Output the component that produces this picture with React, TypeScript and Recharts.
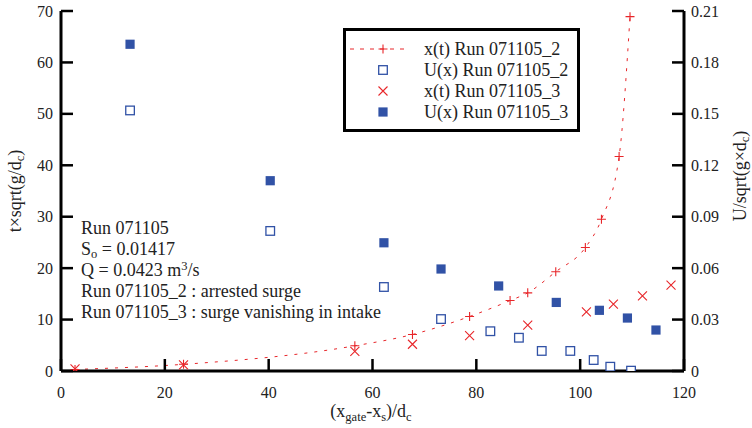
import React from 'react';
import { ComposedChart, XAxis, YAxis, Scatter, Line } from 'recharts';

const xTicks = [0, 20, 40, 60, 80, 100, 120];
const leftTicks = [0, 10, 20, 30, 40, 50, 60, 70];
const rightTicks = [0, 0.03, 0.06, 0.09, 0.12, 0.15, 0.18, 0.21];
const rightTickLabels = ['0', '0.03', '0.06', '0.09', '0.12', '0.15', '0.18', '0.21'];

// x(t) Run 071105_2 (plus markers, dashed curve)
const run2Pos = [
  { x: 2.7, t: 0.3 },
  { x: 23.6, t: 1.3 },
  { x: 56.6, t: 4.9 },
  { x: 67.7, t: 7.1 },
  { x: 78.7, t: 10.6 },
  { x: 86.5, t: 13.7 },
  { x: 89.9, t: 15.2 },
  { x: 95.3, t: 19.3 },
  { x: 101.0, t: 24.0 },
  { x: 104.1, t: 29.5 },
  { x: 107.5, t: 41.7 },
  { x: 109.6, t: 68.9 },
];

// x(t) Run 071105_3 (cross markers)
const run3Pos = [
  { x: 2.7, t: 0.4 },
  { x: 23.6, t: 1.2 },
  { x: 56.6, t: 3.8 },
  { x: 67.7, t: 5.2 },
  { x: 78.7, t: 6.9 },
  { x: 89.9, t: 8.9 },
  { x: 101.2, t: 11.5 },
  { x: 106.4, t: 13.0 },
  { x: 112.0, t: 14.6 },
  { x: 117.5, t: 16.7 },
];

// U(x) Run 071105_2 (open squares, right axis)
const run2Vel = [
  { x: 13.3, u: 0.152 },
  { x: 40.3, u: 0.0817 },
  { x: 62.2, u: 0.049 },
  { x: 73.2, u: 0.0303 },
  { x: 82.7, u: 0.0232 },
  { x: 88.2, u: 0.0194 },
  { x: 92.6, u: 0.0117 },
  { x: 98.1, u: 0.0117 },
  { x: 102.6, u: 0.0064 },
  { x: 105.8, u: 0.0025 },
  { x: 109.8, u: 0.0002 },
];

// U(x) Run 071105_3 (filled squares, right axis)
const run3Vel = [
  { x: 13.3, u: 0.1906 },
  { x: 40.3, u: 0.111 },
  { x: 62.2, u: 0.0748 },
  { x: 73.2, u: 0.0595 },
  { x: 84.3, u: 0.0496 },
  { x: 95.4, u: 0.04 },
  { x: 103.7, u: 0.0354 },
  { x: 109.1, u: 0.0309 },
  { x: 114.6, u: 0.0239 },
];

const RED = '#e8262a';
const BLUE = '#3152a6';
const FONT = '"Liberation Serif", "Times New Roman", serif';
const FS = 16;
const TS = 18;

const W = 752;
const H = 428;

const plusPath = (cx: number, cy: number, r: number) =>
  `M${cx - r},${cy}H${cx + r}M${cx},${cy - r}V${cy + r}`;
const crossPath = (cx: number, cy: number, r: number) =>
  `M${cx - r},${cy - r}L${cx + r},${cy + r}M${cx - r},${cy + r}L${cx + r},${cy - r}`;

const PlusDot = (props: any) => {
  const { cx, cy, index } = props;
  if (cx == null || cy == null) return <g key={`p${index}`} />;
  return <path key={`p${index}`} d={plusPath(cx, cy, 4.5)} stroke={RED} strokeWidth={1.1} fill="none" />;
};
const CrossShape = (props: any) => {
  const { cx, cy } = props;
  return <path d={crossPath(cx, cy, 4.5)} stroke={RED} strokeWidth={1.1} fill="none" />;
};
const OpenSquare = (props: any) => {
  const { cx, cy } = props;
  return <rect x={cx - 4.3} y={cy - 4.3} width={8.6} height={8.6} fill="#fff" stroke={BLUE} strokeWidth={1.3} />;
};
const FilledSquare = (props: any) => {
  const { cx, cy } = props;
  return <rect x={cx - 4.6} y={cy - 4.6} width={9.2} height={9.2} fill={BLUE} stroke="none" />;
};

const TICK = 12;

const LeftTick = (props: any) => {
  const { x, y, payload } = props;
  return (
    <g>
      <line x1={x} x2={x + TICK} y1={y} y2={y} stroke="#000" strokeWidth={2.5} />
      <text x={x - 8} y={y + 5.5} textAnchor="end" fontFamily={FONT} fontSize={FS} fill="#222">
        {payload.value}
      </text>
    </g>
  );
};
const RightTick = (props: any) => {
  const { x, y, payload, index } = props;
  return (
    <g>
      <line x1={x - TICK} x2={x} y1={y} y2={y} stroke="#000" strokeWidth={2.5} />
      <text x={x + 7} y={y + 5.5} textAnchor="start" fontFamily={FONT} fontSize={FS} fill="#222">
        {rightTickLabels[index] ?? payload.value}
      </text>
    </g>
  );
};
const BottomTick = (props: any) => {
  const { x, y, payload } = props;
  return (
    <g>
      <line x1={x} x2={x} y1={y} y2={y - TICK} stroke="#000" strokeWidth={2.5} />
      <text x={x} y={y + 27} textAnchor="middle" fontFamily={FONT} fontSize={FS} fill="#222">
        {payload.value}
      </text>
    </g>
  );
};
const TopTick = (props: any) => {
  const { x, y } = props;
  return (
    <g>
      <line x1={x} x2={x} y1={y} y2={y + TICK} stroke="#000" strokeWidth={2.5} />
    </g>
  );
};

const Overlay = () => {
  const t = { fontFamily: FONT, fontSize: TS, fill: '#222' } as const;
  const sub = 12.5;
  const annX = 81;
  const annY = [234, 255, 276, 297, 318];
  const legX = 424;
  const legRows = [49, 70, 91, 112];
  return (
    <svg width={W} height={H} style={{ position: 'absolute', left: 0, top: 0, pointerEvents: 'none' }}>
      {/* annotation */}
      <text x={annX} y={annY[0]} {...t}>Run 071105</text>
      <text x={annX} y={annY[1]} {...t}>
        S<tspan fontSize={sub} dy={3}>o</tspan>
        <tspan dy={-3}> = 0.01417</tspan>
      </text>
      <text x={annX} y={annY[2]} {...t}>
        Q = 0.0423 m<tspan fontSize={sub} dy={-6}>3</tspan>
        <tspan dy={6}>/s</tspan>
      </text>
      <text x={annX} y={annY[3]} {...t}>Run 071105_2 : arrested surge</text>
      <text x={annX} y={annY[4]} {...t}>Run 071105_3 : surge vanishing in intake</text>

      {/* legend */}
      <rect x={344.5} y={29.5} width={234} height={101} fill="#fff" stroke="#000" strokeWidth={3} />
      <line x1={350} x2={410} y1={legRows[0]} y2={legRows[0]} stroke={RED} strokeWidth={1} strokeDasharray="4 6" />
      <path d={plusPath(383, legRows[0], 4.5)} stroke={RED} strokeWidth={1.1} fill="none" />
      <rect x={383 - 4.3} y={legRows[1] - 4.3} width={8.6} height={8.6} fill="#fff" stroke={BLUE} strokeWidth={1.3} />
      <path d={crossPath(383, legRows[2], 4.5)} stroke={RED} strokeWidth={1.1} fill="none" />
      <rect x={383 - 4.6} y={legRows[3] - 4.6} width={9.2} height={9.2} fill={BLUE} />
      <text x={legX} y={legRows[0] + 6} {...t}>x(t) Run 071105_2</text>
      <text x={legX} y={legRows[1] + 6} {...t}>U(x) Run 071105_2</text>
      <text x={legX} y={legRows[2] + 6} {...t}>x(t) Run 071105_3</text>
      <text x={legX} y={legRows[3] + 6} {...t}>U(x) Run 071105_3</text>

      {/* axis titles */}
      <text transform="translate(21,191) rotate(-90)" textAnchor="middle" {...t}>
        t×sqrt(g/d<tspan fontSize={sub} dy={3}>c</tspan>
        <tspan dy={-3}>)</tspan>
      </text>
      <text transform="translate(746,176) rotate(-90)" textAnchor="middle" {...t}>
        U/sqrt(g×d<tspan fontSize={sub} dy={3}>c</tspan>
        <tspan dy={-3}>)</tspan>
      </text>
      <text x={371} y={417} textAnchor="middle" {...t}>
        (x<tspan fontSize={sub} dy={4}>gate</tspan>
        <tspan dy={-4}>-x</tspan>
        <tspan fontSize={sub} dy={4}>s</tspan>
        <tspan dy={-4}>)/d</tspan>
        <tspan fontSize={sub} dy={4}>c</tspan>
      </text>
    </svg>
  );
};

export default function App() {
  return (
    <div style={{ position: 'relative', width: W, height: H, background: '#fff' }}>
      <style>{'body{margin:0;background:#fff}'}</style>
      <ComposedChart
        width={W}
        height={H}
        margin={{ top: 11, right: 0, bottom: 0, left: 0 }}
        style={{ fontFamily: FONT }}
      >
        <XAxis
          xAxisId="bottom"
          dataKey="x"
          type="number"
          domain={[0, 120]}
          ticks={xTicks}
          orientation="bottom"
          height={57}
          tickSize={0}
          tickMargin={0}
          tickLine={false}
          tick={<BottomTick />}
          axisLine={{ stroke: '#000', strokeWidth: 3 }}
          interval={0}
          allowDataOverflow
        />
        <XAxis
          xAxisId="top"
          dataKey="x"
          type="number"
          domain={[0, 120]}
          ticks={xTicks}
          orientation="top"
          height={0}
          tickSize={0}
          tickMargin={0}
          tickLine={false}
          tick={<TopTick />}
          axisLine={{ stroke: '#000', strokeWidth: 3 }}
          interval={0}
          allowDataOverflow
        />
        <YAxis
          yAxisId="left"
          dataKey="t"
          type="number"
          domain={[0, 70]}
          ticks={leftTicks}
          orientation="left"
          width={61}
          tickSize={0}
          tickMargin={0}
          tickLine={false}
          tick={<LeftTick />}
          axisLine={{ stroke: '#000', strokeWidth: 3 }}
          interval={0}
          allowDataOverflow
        />
        <YAxis
          yAxisId="right"
          dataKey="u"
          type="number"
          domain={[0, 0.21]}
          ticks={rightTicks}
          orientation="right"
          width={68}
          tickSize={0}
          tickMargin={0}
          tickLine={false}
          tick={<RightTick />}
          axisLine={{ stroke: '#000', strokeWidth: 3 }}
          interval={0}
          allowDataOverflow
        />
        <Scatter
          xAxisId="bottom"
          yAxisId="right"
          data={run2Vel}
          dataKey="u"
          shape={OpenSquare}
          isAnimationActive={false}
        />
        <Scatter
          xAxisId="bottom"
          yAxisId="right"
          data={run3Vel}
          dataKey="u"
          shape={FilledSquare}
          isAnimationActive={false}
        />
        <Scatter
          xAxisId="bottom"
          yAxisId="left"
          data={run3Pos}
          dataKey="t"
          shape={CrossShape}
          isAnimationActive={false}
        />
        <Line
          xAxisId="bottom"
          yAxisId="left"
          data={run2Pos}
          dataKey="t"
          type="monotone"
          stroke={RED}
          strokeWidth={1}
          strokeDasharray="3 7"
          dot={PlusDot}
          activeDot={false}
          isAnimationActive={false}
        />
      </ComposedChart>
      <Overlay />
    </div>
  );
}
